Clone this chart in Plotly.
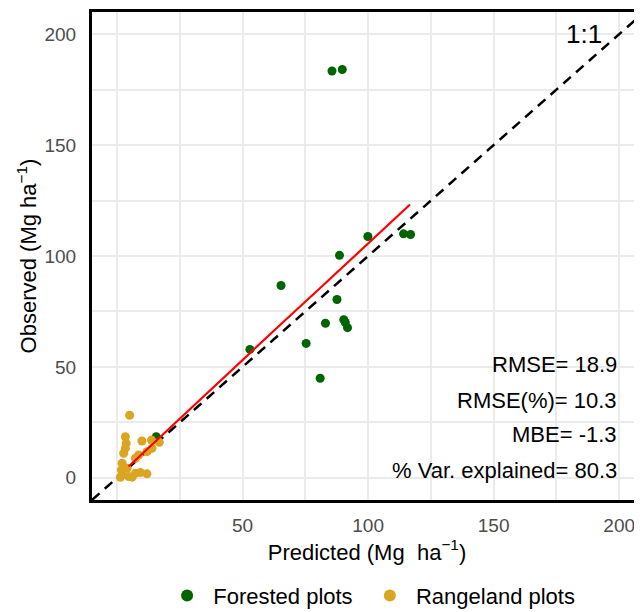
import plotly.graph_objects as go

# forested plots (predicted, observed)
forest_pred = [85.6, 89.7, 99.9, 114.1, 116.9, 88.6, 65.3, 87.6, 83.0, 90.3, 90.9, 91.8, 75.3, 52.9, 80.9, 15.6]
forest_obs = [183.4, 184.1, 108.8, 110.0, 109.7, 100.3, 86.7, 80.4, 69.7, 71.3, 70.0, 67.7, 60.6, 57.9, 44.9, 18.5]

# rangeland plots (predicted, observed)
range_pred = [5.0, 3.3, 3.6, 9.9, 13.7, 16.8, 2.6, 3.3, 8.6, 11.9, 13.9, 7.3, 2.0, 1.7, 4.0, 2.0, 4.6, 7.3, 9.3, 11.9, 1.3, 6.0]
range_obs = [28.2, 18.5, 15.5, 16.6, 17.0, 16.0, 11.1, 13.3, 10.3, 11.8, 13.3, 8.8, 6.6, 3.6, 4.3, 1.3, 0.6, 2.1, 2.4, 1.8, 0.2, 0.3]

# smoothed fit line
fit_x = [4.6, 17.2, 37.1, 49.1, 57.0, 65.0, 79.6, 88.9, 100.1, 116.7]
fit_y = [5.1, 18.5, 39.5, 52.3, 60.6, 69.0, 84.2, 93.9, 106.0, 123.2]

one_to_one = [-10, 210]

stats_labels = ["RMSE= 18.9", "RMSE(%)= 10.3", "MBE= -1.3", "% Var. explained= 80.3"]
stats_y = [51, 35, 19.5, 3.5]

FONT = "Liberation Sans, Arial, sans-serif"

fig = go.Figure()
fig.add_trace(go.Scatter(
    x=one_to_one, y=one_to_one, mode="lines",
    line=dict(color="black", width=2.5, dash="10px,7px"),
    showlegend=False, hoverinfo="skip",
))
fig.add_trace(go.Scatter(
    x=forest_pred, y=forest_obs, mode="markers", name="&nbsp;Forested plots&nbsp;&nbsp;",
    marker=dict(color="#006400", size=9),
))
fig.add_trace(go.Scatter(
    x=range_pred, y=range_obs, mode="markers", name="&nbsp;Rangeland plots",
    marker=dict(color="#DAA520", size=9),
))
fig.add_trace(go.Scatter(
    x=fit_x, y=fit_y, mode="lines",
    line=dict(color="red", width=2.2),
    showlegend=False, hoverinfo="skip",
))

for txt, yy in zip(stats_labels, stats_y):
    fig.add_annotation(x=200, y=yy, text=txt, showarrow=False,
                       xanchor="right", yanchor="middle",
                       font=dict(size=22, color="black", family=FONT))
fig.add_annotation(x=186, y=200, text="1:1", showarrow=False,
                   xanchor="center", yanchor="middle",
                   font=dict(size=26, color="black", family=FONT))

grid = "#EBEBEB"
fig.update_layout(
    width=642, height=616,
    margin=dict(l=84, r=8, t=1, b=124),
    plot_bgcolor="white", paper_bgcolor="white",
    font=dict(family=FONT, color="black"),
    legend=dict(orientation="h", x=0.512, xanchor="center", y=-0.196, yanchor="middle",
                font=dict(size=22, color="black"), itemsizing="constant"),
    xaxis=dict(
        range=[-10, 209.1], tickvals=[50, 100, 150, 200],
        showgrid=True, gridcolor=grid, gridwidth=1.6, zeroline=False,
        minor=dict(showgrid=True, gridcolor=grid, gridwidth=1.6, tick0=0, dtick=25),
        showline=True, linecolor="black", linewidth=3, mirror=True,
        tickfont=dict(size=19, color="#4D4D4D"), ticklabelstandoff=6,
        title=dict(text="Predicted (Mg&nbsp; ha<sup>−1</sup>)", font=dict(size=22), standoff=10),
    ),
    yaxis=dict(
        range=[-10, 210], tickvals=[0, 50, 100, 150, 200],
        showgrid=True, gridcolor=grid, gridwidth=1.6, zeroline=False,
        minor=dict(showgrid=True, gridcolor=grid, gridwidth=1.6, tick0=0, dtick=25),
        showline=True, linecolor="black", linewidth=3,
        tickfont=dict(size=19, color="#4D4D4D"), ticklabelstandoff=9,
        title=dict(text="Observed (Mg ha<sup>−1</sup>)", font=dict(size=22), standoff=2),
    ),
)

fig.write_html("out.html")
